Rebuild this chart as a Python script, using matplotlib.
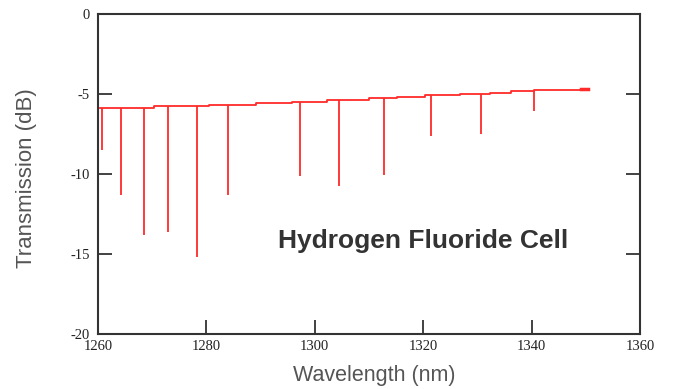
import numpy as np
import matplotlib
matplotlib.use("Agg")
import matplotlib.pyplot as plt

# Baseline (step) of the transmission spectrum
base_wl = [1260.4, 1270.3, 1280.5, 1289.2, 1295.8, 1302.3, 1310.0, 1315.2,
           1320.3, 1326.8, 1332.3, 1336.2, 1340.4, 1350.4]
base_db = [-5.86, -5.78, -5.66, -5.57, -5.47, -5.36, -5.28, -5.19,
           -5.09, -5.00, -4.92, -4.84, -4.73, -4.67]

# Absorption lines
dip_wl = [1260.8, 1264.2, 1268.5, 1273.0, 1278.2, 1283.9,
          1297.3, 1304.5, 1312.8, 1321.4, 1330.7, 1340.4]
dip_db = [-8.53, -11.29, -13.8, -13.6, -15.2, -11.29,
          -10.15, -10.72, -10.07, -7.65, -7.52, -6.05]

x_ticks = [1260, 1280, 1300, 1320, 1340, 1360]
y_ticks = [0, -5, -10, -15, -20]
y_labels = ["0", "-5", "-10", "-15", "-20"]

red = "#ff2a2a"
axis_col = "#333333"

fig = plt.figure(figsize=(6.73, 3.89), dpi=100)
ax = fig.add_axes([98/673, 1-334/389, (640-98)/673, (334-14)/389])

ax.step(base_wl, base_db, where="post", color=red, lw=1.3)

def base_at(w):
    idx = np.searchsorted(base_wl, w, side="right") - 1
    idx = max(idx, 0)
    return base_db[idx]

tops = [base_at(w) for w in dip_wl]
ax.vlines(dip_wl, dip_db, tops, color=red, lw=1.3)
ax.plot([base_wl[-1] - 1.2, base_wl[-1]], [base_db[-1], base_db[-1]], color=red, lw=2.5)

ax.set_xlim(1260, 1360)
ax.set_ylim(-20, 0)
ax.set_xticks(x_ticks)
ax.set_yticks(y_ticks)
ax.set_yticklabels(y_labels)
ax.tick_params(axis="both", direction="in", length=10, width=1.3, color=axis_col,
               labelsize=10.5, labelcolor="#222222")
ax.tick_params(axis="y", right=True, labelright=False, pad=6)
ax.tick_params(axis="x", pad=4)
for lab in ax.get_xticklabels() + ax.get_yticklabels():
    lab.set_family("Liberation Serif")

for s in ax.spines.values():
    s.set_color(axis_col)
    s.set_linewidth(1.5)

ax.set_xlabel("Wavelength (nm)", family="Liberation Sans", fontsize=15.5,
              color="#555555")
ax.xaxis.set_label_coords(0.5 + 5 / 542, -(375 - 334) / 320, transform=ax.transAxes)
ax.xaxis.label.set_va("center")
ax.set_ylabel("Transmission (dB)", family="Liberation Sans", fontsize=16,
              color="#555555")
ax.yaxis.set_label_coords(-(98 - 27) / 542, 0.5 - 4 / 320, transform=ax.transAxes)
ax.yaxis.label.set_va("center")

ax.text(1320, -14.2, "Hydrogen Fluoride Cell", family="Liberation Sans",
        fontsize=19, fontweight="bold", color="#333333", ha="center", va="center")

fig.savefig("out.png", dpi=100)
